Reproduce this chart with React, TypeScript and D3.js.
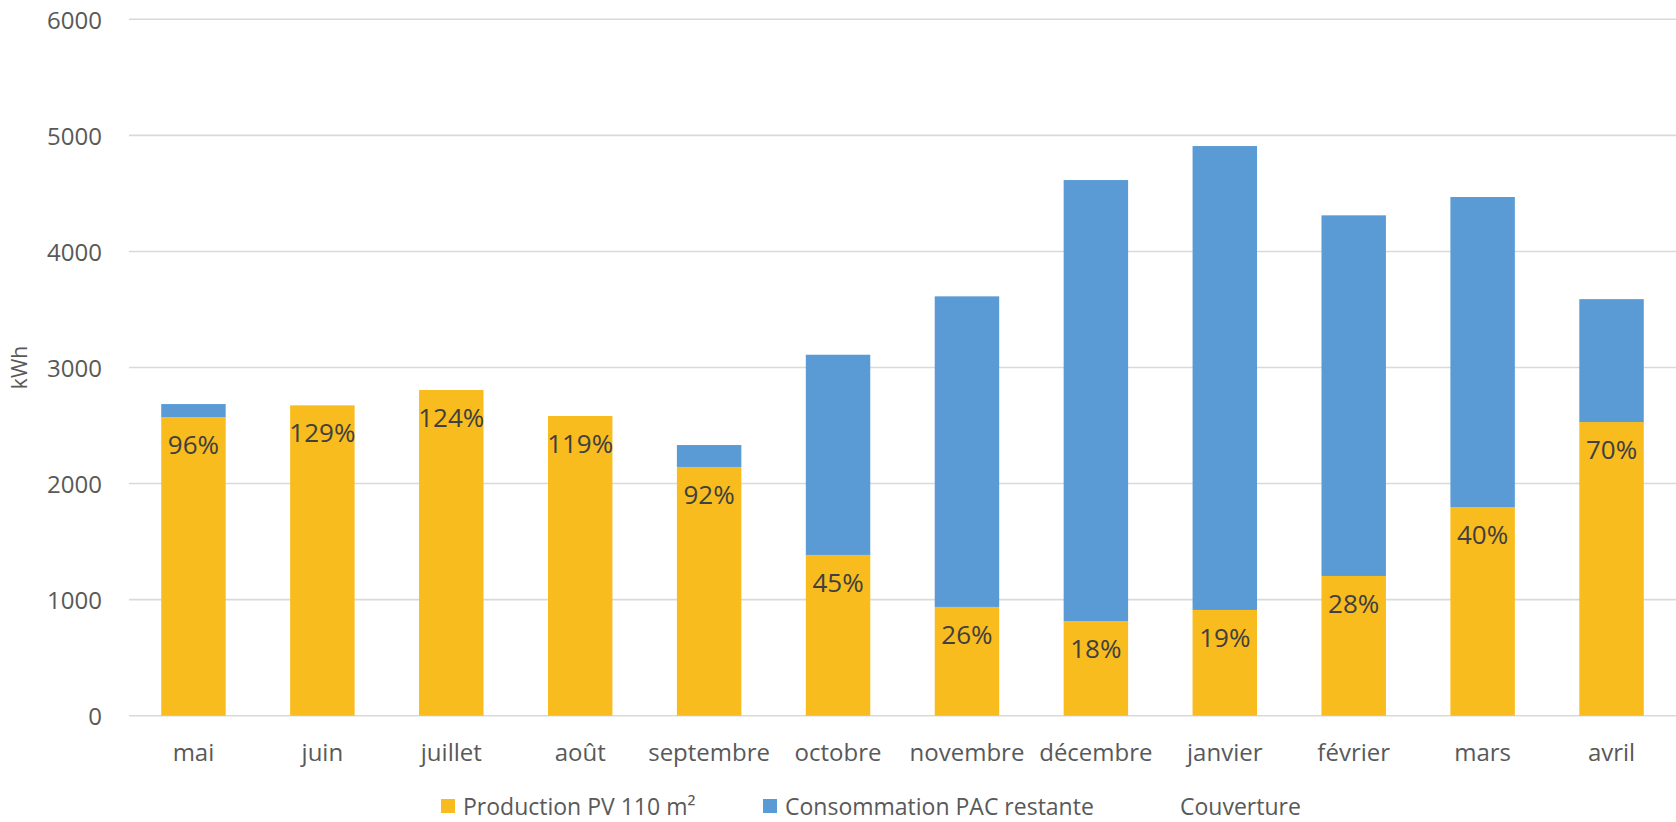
import React from "react";
import * as d3 from "d3";

const months = ["mai", "juin", "juillet", "août", "septembre", "octobre", "novembre", "décembre", "janvier", "février", "mars", "avril"];
const production = [2571, 2674, 2806, 2582, 2143, 1385, 937, 816, 911, 1204, 1798, 2530];
const remaining = [114, 0, 0, 0, 189, 1725, 2676, 3799, 3997, 3107, 2671, 1059];
const coverage = [96, 129, 124, 119, 92, 45, 26, 18, 19, 28, 40, 70];
const yTicks = [0, 1000, 2000, 3000, 4000, 5000, 6000];
const seriesNames = ["Production PV 110 m²", "Consommation PAC restante", "Couverture"];

const W = 1676;
const H = 822;
const FONT = "'Open Sans', sans-serif";
const YELLOW = "#F9BC1E";
const BLUE = "#5B9BD5";

export default function App() {
  const x = d3.scaleBand<string>().domain(months).range([129, 1676]).paddingInner(0.5).paddingOuter(0.25);
  const y = d3.scaleLinear().domain([0, 6000]).range([715.7, 19.3]);
  const bw = x.bandwidth();

  return (
    <svg width={W} height={H} style={{ position: "absolute", left: 0, top: 0, background: "#fff" }} fontFamily={FONT}>
      {yTicks.map((t) => (
        <g key={t}>
          <line x1={129} x2={1676} y1={y(t)} y2={y(t)} stroke="#D9D9D9" strokeWidth={1.6} />
          <text x={102} y={y(t)} textAnchor="end" dominantBaseline="central" fontSize={24} fill="#595959">{t}</text>
        </g>
      ))}
      <text transform={`translate(19,${(y(0) + y(6000)) / 2}) rotate(-90)`} textAnchor="middle" dominantBaseline="central" fontSize={21} fill="#595959">kWh</text>
      {months.map((m, i) => {
        const x0 = x(m) as number;
        return (
          <g key={m}>
            <rect x={x0} width={bw} y={y(production[i])} height={y(0) - y(production[i])} fill={YELLOW} />
            {remaining[i] > 0 && (
              <rect x={x0} width={bw} y={y(production[i] + remaining[i])} height={y(production[i]) - y(production[i] + remaining[i])} fill={BLUE} />
            )}
            <text x={x0 + bw / 2} y={y(production[i]) + 27} textAnchor="middle" dominantBaseline="central" fontSize={26} fill="#404040">{coverage[i]}%</text>
            <text x={x0 + bw / 2} y={751} textAnchor="middle" dominantBaseline="central" fontSize={24} fill="#595959">{m}</text>
          </g>
        );
      })}
      <g fontSize={23} fill="#595959">
        <rect x={441} y={799} width={14} height={14} fill={YELLOW} />
        <text x={463} y={806} dominantBaseline="central">{seriesNames[0]}</text>
        <rect x={763} y={799} width={14} height={14} fill={BLUE} />
        <text x={785} y={806} dominantBaseline="central">{seriesNames[1]}</text>
        <text x={1180} y={806} dominantBaseline="central">{seriesNames[2]}</text>
      </g>
    </svg>
  );
}
